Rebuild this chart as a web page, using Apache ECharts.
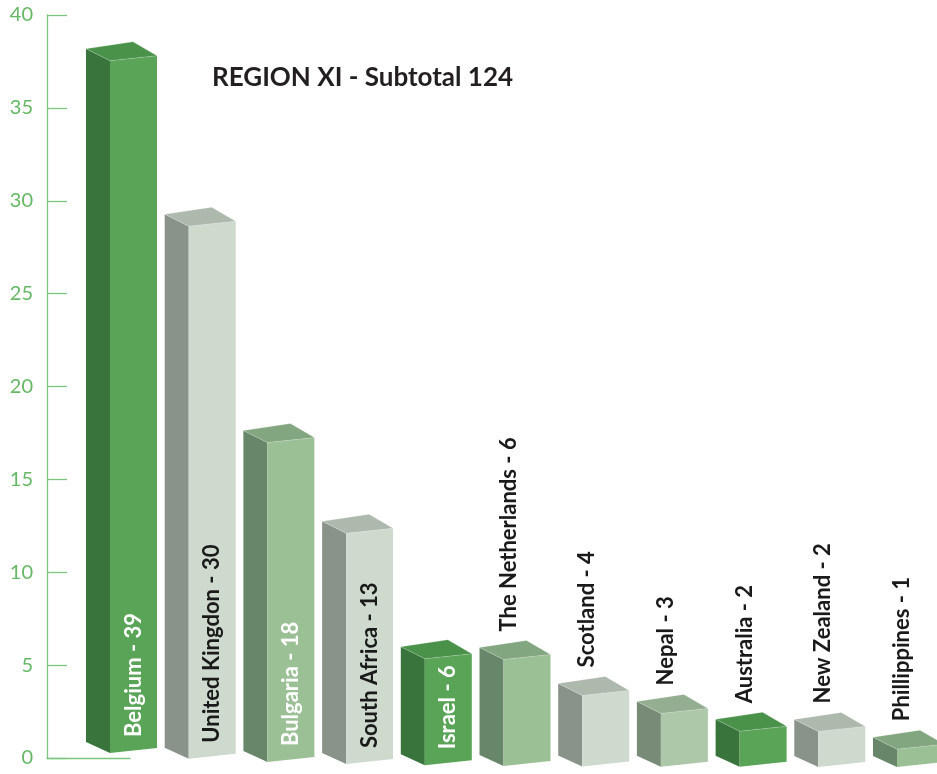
<!DOCTYPE html>
<html><head><meta charset="utf-8">
<script src="https://cdn.jsdelivr.net/npm/echarts@6/dist/echarts.min.js"></script>
<style>html,body{margin:0;padding:0;background:#fff}#c{width:937px;height:774px}</style>
</head><body><div id="c"></div>
<script>
// ---- data ----
const categories = ['Belgium','United Kingdon','Bulgaria','South Africa','Israel','The Netherlands','Scotland','Nepal','Australia','New Zealand','Phillippines'];
const values = [39,30,18,13,6,6,4,3,2,2,1];
const yMin = 0, yMax = 40, yInterval = 5;
const titleText = 'REGION XI - Subtotal 124';

// ---- styles ----
const palettes = {
  green: {front:'#5AA458', side:'#38743B', top:'#4A914A', text:'#ffffff'},
  grey:  {front:'#CFDACF', side:'#8A9389', top:'#AEB9AE', text:'#1a1a1a'},
  sage:  {front:'#9CC096', side:'#68876A', top:'#82A67F', text:'#ffffff'},
  pale:  {front:'#ADC8A9', side:'#778B76', top:'#94AE91', text:'#1a1a1a'}
};
const barPalette = ['green','grey','sage','grey','green','sage','grey','pale','green','grey','sage'];
const labelInside = [true,true,true,true,true,false,false,false,false,false,false];
const axisGreen = '#7CC57C';
const labelGreen = '#66B866';
const FONT = 'Lato, "Open Sans", sans-serif';

function renderItem(params, api){
  const i = api.value(0), v = api.value(1);
  const p0 = api.coord([i, 0]), p1 = api.coord([i, v]);
  const cx = p0[0];
  const shift = -14 * Math.exp(-(cx - 133.5) / 150); // floor perspective
  const yb = p0[1] + shift, yt = p1[1] + shift;
  const hw = 23.5, L = cx - hw, R = cx + hw;
  const pal = palettes[barPalette[i]];
  const front = [[L,yb],[L,yt],[R,yt-5],[R,yb-5]];
  const side = [[L-24,yb-11],[L-24,yt-12],[L,yt],[L,yb]];
  const top = [[L,yt],[L-24,yt-12],[R-24,yt-19],[R,yt-5]];
  const inside = labelInside[i];
  const txt = categories[i] + ' - ' + v;
  return {type:'group', children:[
    {type:'polygon', shape:{points:side}, style:{fill:pal.side}},
    {type:'polygon', shape:{points:front}, style:{fill:pal.front}},
    {type:'polygon', shape:{points:top}, style:{fill:pal.top, stroke:'rgba(255,255,255,0.35)', lineWidth:0.6}},
    {type:'text', x: inside ? cx : L + 5, y: inside ? yb - 16 : yt - 28, rotation: Math.PI/2,
      style:{text: txt, fill: inside ? pal.text : '#1a1a1a', fontFamily: FONT, fontWeight:'bold', fontSize:22,
        align:'left', verticalAlign:'middle'}}
  ]};
}

const chart = echarts.init(document.getElementById('c'), null, {renderer:'canvas'});
const barStep = 78.7;
const gridLeft = 133.5 - 0.5 * barStep;
const gridW = 937 - gridLeft;
chart.setOption({
  animation:false,
  backgroundColor:'#ffffff',
  title:{text:titleText, left:207, top:60, textStyle:{fontFamily:FONT, fontWeight:'bold', fontSize:26, color:'#231f20'}},
  grid:[
    {left:47, top:15, width:83, height:743},
    {left:gridLeft, top:57, width:gridW, height:710}
  ],
  xAxis:[
    {type:'value', gridIndex:0, min:0, max:1, axisLine:{show:true, lineStyle:{color:axisGreen, width:1.3}},
      axisTick:{show:false}, axisLabel:{show:false}, splitLine:{show:false}},
    {type:'value', gridIndex:1, min:-0.5, max:-0.5 + gridW / barStep, show:false}
  ],
  yAxis:[
    {type:'value', gridIndex:0, min:yMin, max:yMax, interval:yInterval,
      axisLine:{show:true, lineStyle:{color:axisGreen, width:1.3}},
      axisTick:{show:true, inside:true, length:20, lineStyle:{color:axisGreen, width:1.3}},
      axisLabel:{color:labelGreen, fontFamily:FONT, fontSize:20, margin:14, padding:[14,0,0,0]},
      splitLine:{show:false}},
    {type:'value', gridIndex:1, min:yMin, max:yMax, show:false}
  ],
  series:[{
    type:'custom', xAxisIndex:1, yAxisIndex:1,
    renderItem: renderItem,
    data: values.map((v,i)=>[i,v]),
    clip:false
  }]
});
</script></body></html>
